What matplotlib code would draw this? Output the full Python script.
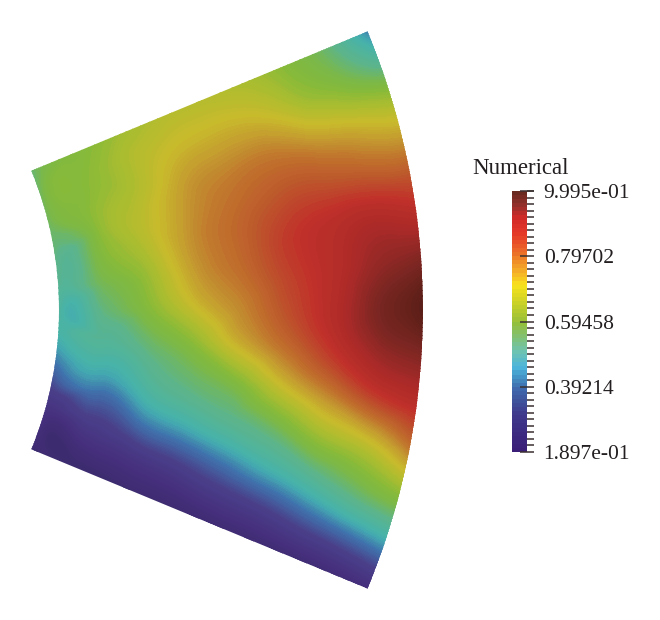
import numpy as np
import matplotlib
matplotlib.use("Agg")
import matplotlib.pyplot as plt
import matplotlib.tri as mtri
from matplotlib.colors import LinearSegmentedColormap, Normalize
from matplotlib.patches import Wedge
from matplotlib.ticker import AutoMinorLocator

plt.rcParams['font.family'] = ['Liberation Serif', 'DejaVu Serif']

# Parameters
vmin = 0.1897
vmax = 0.9995
tick_values = [0.1897, 0.39214, 0.59458, 0.79702, 0.9995]
tick_labels = ['1.897e-01', '0.39214', '0.59458', '0.79702', '9.995e-01']

# Grid of the sector, angle in degrees, radius 1 to 2
radius = [1.0, 1.125, 1.25, 1.375, 1.5, 1.625, 1.75, 1.875, 2.0]
theta = [22.5, 18.75, 15, 11.25, 7.5, 3.75, 0, -3.75, -7.5, -11.25, -15, -18.75, -22.5]

# Values, one row per angle, inner radius first
row_p225 = [0.54, 0.59, 0.625, 0.655, 0.66, 0.645, 0.60, 0.54, 0.41]
row_p188 = [0.55, 0.60, 0.645, 0.685, 0.70, 0.695, 0.645, 0.60, 0.55]
row_p150 = [0.555, 0.605, 0.65, 0.715, 0.745, 0.76, 0.74, 0.715, 0.69]
row_p113 = [0.54, 0.60, 0.665, 0.73, 0.77, 0.80, 0.81, 0.80, 0.79]
row_p075 = [0.52, 0.585, 0.65, 0.735, 0.78, 0.83, 0.86, 0.885, 0.87]
row_p038 = [0.50, 0.56, 0.62, 0.72, 0.77, 0.825, 0.865, 0.92, 0.95]
row_000 = [0.48, 0.53, 0.595, 0.68, 0.745, 0.81, 0.87, 0.95, 0.9995]
row_m038 = [0.46, 0.50, 0.545, 0.605, 0.70, 0.77, 0.84, 0.91, 0.94]
row_m075 = [0.41, 0.46, 0.50, 0.545, 0.59, 0.68, 0.75, 0.82, 0.86]
row_m113 = [0.35, 0.40, 0.45, 0.49, 0.52, 0.56, 0.63, 0.67, 0.75]
row_m150 = [0.28, 0.33, 0.37, 0.40, 0.43, 0.465, 0.505, 0.55, 0.59]
row_m188 = [0.24, 0.25, 0.27, 0.29, 0.32, 0.34, 0.37, 0.40, 0.43]
row_m225 = [0.19, 0.19, 0.19, 0.195, 0.20, 0.205, 0.21, 0.22, 0.24]

# Colours of the sector and of the bar, they differ in the picture
field_stops = [0.1897, 0.25, 0.33, 0.40, 0.44, 0.46, 0.52, 0.57, 0.60, 0.64, 0.69, 0.73, 0.77, 0.80, 0.85, 0.90, 0.95, 0.9995]
field_colors = ['#3d2b70', '#46307e', '#4a3f8a', '#3f74ad', '#44a8b0', '#48b3a8', '#5cb48a', '#7bb848', '#86ba3a', '#a8bc30',
                '#c8bb2c', '#c49a30', '#c0702c', '#bd5a2c', '#c0302a', '#a82a28', '#7c2622', '#5c1e18']
bar_stops = [0.1897, 0.30, 0.39, 0.45, 0.50, 0.59, 0.66, 0.71, 0.76, 0.80, 0.87, 0.92, 0.96, 0.9995]
bar_colors = ['#3b1e78', '#3f3a8c', '#3f6fb0', '#4cb6dc', '#6fc4b0', '#95bf3a', '#d0d426', '#f9e31e', '#f4a52a',
              '#ee7a28', '#e63a28', '#d42a28', '#94302c', '#6a2a20']


def make_cmap(name, stops, colors, n=256):
    pos = [(s - vmin) / (vmax - vmin) for s in stops]
    return LinearSegmentedColormap.from_list(name, list(zip(pos, colors)), N=n)


field = np.array([row_p225, row_p188, row_p150, row_p113, row_p075, row_p038, row_000,
                  row_m038, row_m075, row_m113, row_m150, row_m188, row_m225])
rr, tt = np.meshgrid(radius, np.radians(theta))
x = rr * np.cos(tt)
y = rr * np.sin(tt)

fig = plt.figure(figsize=(6.6, 6.2), dpi=100)

# Axes over the whole figure, pixels per unit chosen so the sector lands in place
scale = 364.0
ax = fig.add_axes([0, 0, 1, 1])
ax.set_xlim(305 / scale, (660 + 305) / scale)
ax.set_ylim(-310 / scale, 310 / scale)
ax.axis('off')

tri = mtri.Triangulation(x.ravel(), y.ravel())
refiner = mtri.UniformTriRefiner(tri)
tri_fine, z_fine = refiner.refine_field(field.ravel(), subdiv=3)
norm = Normalize(vmin, vmax)
cs = ax.tricontourf(tri_fine, np.clip(z_fine, vmin, vmax), levels=np.linspace(vmin, vmax, 161),
                    cmap=make_cmap('field', field_stops, field_colors), norm=norm, antialiased=False)
sector = Wedge((0, 0), max(radius), min(theta), max(theta), width=max(radius) - min(radius),
               transform=ax.transData, facecolor='none', edgecolor='none')
ax.add_patch(sector)
cs.set_clip_path(sector)

# Colour bar
cax = fig.add_axes([512 / 660, 1 - 452 / 620, 15 / 660, 261 / 620])
gradient = np.linspace(vmin, vmax, 64).reshape(-1, 1)
cax.imshow(gradient, origin='lower', aspect='auto', extent=[0, 1, vmin, vmax], interpolation='nearest',
           cmap=make_cmap('bar', bar_stops, bar_colors), norm=norm)
cax.set_xticks([])
for side in cax.spines.values():
    side.set_visible(False)
cax.yaxis.tick_right()
cax.set_yticks(tick_values)
cax.set_yticklabels(tick_labels, fontsize=15.5, color='#231f20')
cax.yaxis.set_minor_locator(AutoMinorLocator(10))
cax.tick_params(axis='y', which='major', direction='inout', length=10, width=1.1, color='#3a3030', pad=7)
cax.tick_params(axis='y', which='minor', direction='out', length=5, width=1.1, color='#3a3030')
cax.set_ylim(vmin, vmax)

fig.text(472 / 660, 1 - 169 / 620, 'Numerical', fontsize=16.5, color='#231f20', va='center', ha='left')

plt.savefig('out.png', dpi=100)
